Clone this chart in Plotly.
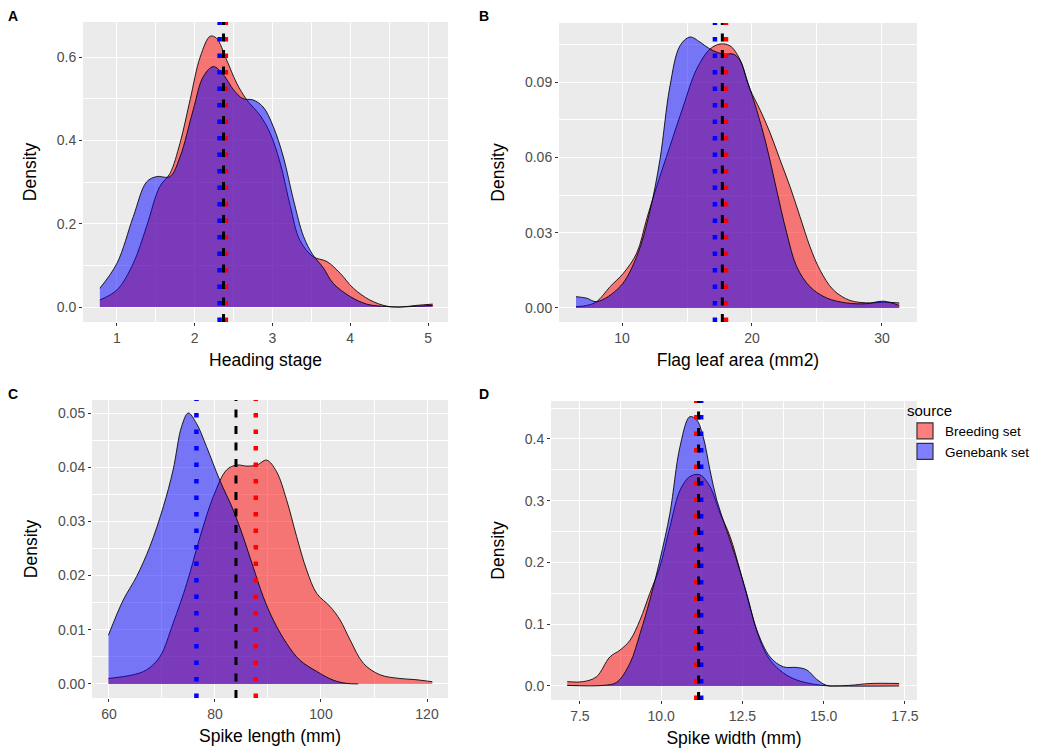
import plotly.graph_objects as go

# ---------------- data ----------------
traits = ["Heading stage", "Flag leaf area (mm2)", "Spike length (mm)", "Spike width (mm)"]
panel_letters = ["A", "B", "C", "D"]
series_names = ["Breeding set", "Genebank set"]

# Panel A: Heading stage
a_breed_x = [0.78, 1.0, 1.21, 1.38, 1.55, 1.68, 1.81, 1.94, 2.07, 2.20, 2.28, 2.41, 2.54, 2.67, 2.84, 2.97,
             3.10, 3.23, 3.35, 3.52, 3.70, 3.87, 4.04, 4.25, 4.47, 4.64, 4.86, 5.06]
a_breed_y = [0.017, 0.041, 0.105, 0.193, 0.289, 0.320, 0.393, 0.497, 0.600, 0.650, 0.645, 0.593, 0.537, 0.497,
             0.460, 0.417, 0.345, 0.241, 0.161, 0.121, 0.109, 0.081, 0.045, 0.017, 0.002, 0.000, 0.004, 0.007]
a_gene_x = [0.78, 1.0, 1.21, 1.38, 1.51, 1.68, 1.81, 1.98, 2.11, 2.24, 2.37, 2.50, 2.62, 2.75, 2.88, 3.01,
            3.14, 3.27, 3.40, 3.52, 3.65, 3.78, 4.0, 4.21, 4.40, 4.64, 4.86, 5.06]
a_gene_y = [0.045, 0.105, 0.217, 0.300, 0.313, 0.313, 0.360, 0.473, 0.553, 0.577, 0.557, 0.521, 0.500, 0.497,
            0.480, 0.433, 0.360, 0.257, 0.169, 0.125, 0.095, 0.057, 0.025, 0.007, 0.002, 0.000, 0.002, 0.004]

# Panel B: Flag leaf area
b_breed_x = [6.46, 7.28, 8.05, 9.08, 10.1, 11.13, 11.9, 12.67, 13.69, 14.72, 15.74, 16.77, 17.54, 18.31, 19.08,
             19.85, 20.62, 21.38, 22.15, 22.92, 23.69, 24.46, 25.23, 26.26, 27.54, 29.08, 30.1, 31.33]
b_breed_y = [0.0005, 0.0010, 0.0025, 0.0085, 0.0138, 0.0219, 0.0355, 0.0485, 0.0645, 0.0805, 0.0952, 0.1032,
             0.1052, 0.1045, 0.0990, 0.0872, 0.0790, 0.0700, 0.0592, 0.0485, 0.0365, 0.0245, 0.0152, 0.0072,
             0.0030, 0.0020, 0.0023, 0.0020]
b_gene_x = [6.46, 7.28, 8.05, 9.85, 11.13, 12.15, 12.92, 13.69, 14.46, 15.23, 16.0, 16.77, 17.79, 18.56, 19.08,
            19.59, 20.36, 21.13, 21.9, 22.67, 23.44, 24.46, 25.74, 27.28, 28.82, 30.1, 31.33]
b_gene_y = [0.0045, 0.0039, 0.0025, 0.0085, 0.0205, 0.0387, 0.0592, 0.0885, 0.1045, 0.1080, 0.1060, 0.1032,
            0.1012, 0.1012, 0.0987, 0.0912, 0.0790, 0.0645, 0.0470, 0.0300, 0.0165, 0.0085, 0.0040, 0.0020,
            0.0017, 0.0027, 0.0010]

# Panel C: Spike length
c_breed_x = [59.9, 64.6, 67.1, 69.6, 72.1, 74.7, 77.2, 79.7, 82.2, 84.1, 86.0, 87.9, 89.75, 91.6, 93.5, 95.4,
             97.3, 99.2, 101.7, 103.6, 105.5, 108.0, 111.1, 114.9, 117.7, 121.0]
c_breed_y = [0.0010, 0.0017, 0.0026, 0.0050, 0.0112, 0.0186, 0.0272, 0.0346, 0.0395, 0.0404, 0.0402, 0.0404,
             0.0413, 0.0392, 0.0340, 0.0272, 0.0210, 0.0167, 0.0143, 0.0118, 0.0081, 0.0038, 0.0017, 0.0010,
             0.0008, 0.0004]
c_gene_x = [59.9, 62.7, 65.2, 67.7, 70.25, 72.1, 73.7, 74.96, 76.5, 78.4, 80.9, 83.45, 85.3, 87.2, 89.1, 91.0,
            93.5, 96.0, 99.2, 102.3, 104.8, 107.0]
c_gene_y = [0.0090, 0.0155, 0.0198, 0.0253, 0.0327, 0.0395, 0.0475, 0.0500, 0.0481, 0.0438, 0.0376, 0.0321,
            0.0272, 0.0216, 0.0161, 0.0118, 0.0075, 0.0044, 0.0023, 0.0007, 0.0001, 0.0000]

# Panel D: Spike width
d_breed_x = [7.11, 7.6, 8.01, 8.42, 8.73, 9.04, 9.35, 9.65, 9.96, 10.27, 10.58, 10.88, 11.19, 11.5, 11.81,
             12.12, 12.42, 12.73, 13.04, 13.35, 13.76, 14.17, 14.68, 15.2, 15.8, 16.42, 17.32]
d_breed_y = [0.007, 0.007, 0.015, 0.047, 0.058, 0.074, 0.107, 0.150, 0.193, 0.258, 0.317, 0.339, 0.342, 0.323,
             0.280, 0.242, 0.188, 0.128, 0.074, 0.042, 0.021, 0.0097, 0.003, 0.000, 0.001, 0.004, 0.004]
d_gene_x = [7.11, 8.22, 8.63, 9.04, 9.35, 9.65, 9.96, 10.27, 10.58, 10.88, 11.09, 11.29, 11.5, 11.71, 12.01,
            12.32, 12.63, 12.94, 13.35, 13.76, 14.17, 14.48, 14.78, 15.09, 15.5, 17.32]
d_gene_y = [0.001, 0.001, 0.006, 0.037, 0.085, 0.139, 0.204, 0.280, 0.388, 0.436, 0.431, 0.404, 0.350, 0.301,
            0.253, 0.204, 0.150, 0.091, 0.047, 0.031, 0.030, 0.026, 0.011, 0.001, 0.000, 0.000]

# group means (vertical reference lines)
mean_breeding = [2.40, 18.0, 87.7, 11.08]
mean_genebank = [2.32, 17.15, 76.5, 11.23]
mean_overall = [2.37, 17.72, 83.96, 11.15]

breed_x = [a_breed_x, b_breed_x, c_breed_x, d_breed_x]
breed_y = [a_breed_y, b_breed_y, c_breed_y, d_breed_y]
gene_x = [a_gene_x, b_gene_x, c_gene_x, d_gene_x]
gene_y = [a_gene_y, b_gene_y, c_gene_y, d_gene_y]

# ---------------- layout settings ----------------
OFF = 8                     # page body margin of the html page
W, H = 1050 - OFF, 752 - OFF


def fx(px):
    return (px - OFF) / W


def fy(py):
    return 1 - (py - OFF) / H


# plot areas in screen pixels: (left, right, top, bottom)
panel_px = [(83, 448, 22, 322), (559, 917, 23, 322), (92, 448, 400, 698), (551, 917, 401, 700)]
x_ranges = [[0.563, 5.257], [5.15, 32.7], [56.8, 123.96], [6.61, 17.87]]
y_ranges = [[-0.036, 0.684], [-0.0056, 0.1136], [-0.0026, 0.0524], [-0.0227, 0.4615]]
x_dticks = [1, 10, 20, 2.5]
y_dticks = [0.2, 0.03, 0.01, 0.1]
x_fmts = ["d", "d", "d", ".1f"]
y_fmts = [".1f", ".2f", ".2f", ".1f"]
letter_px = [(13, 16), (484, 16), (13, 394), (484, 394)]

fill_colors = ["rgba(255,0,0,0.5)", "rgba(0,0,255,0.5)"]
line_colors = ["#FF0000", "#0000FF"]
FAM = "Liberation Sans, Arial, sans-serif"
TICK_FONT = dict(family=FAM, size=14, color="#4D4D4D")
TITLE_FONT = dict(family=FAM, size=17.5, color="#000000")

fig = go.Figure()
layout = {}
shapes = []
annotations = []

for i in range(4):
    sfx = "" if i == 0 else str(i + 1)
    xa, ya = "x" + sfx, "y" + sfx
    for s, (xs, ys) in enumerate([(breed_x[i], breed_y[i]), (gene_x[i], gene_y[i])]):
        fig.add_trace(go.Scatter(
            x=xs, y=ys, xaxis=xa, yaxis=ya, mode="lines",
            line=dict(color="rgba(0,0,0,0.85)", width=1, shape="spline", smoothing=1.0),
            fill="tozeroy", fillcolor=fill_colors[s],
            name=series_names[s], showlegend=False, hoverinfo="skip"))
    l, r, t, b = panel_px[i]
    layout["xaxis" + sfx] = dict(
        domain=[fx(l), fx(r)], anchor=ya, range=x_ranges[i], dtick=x_dticks[i], tick0=0,
        tickformat=x_fmts[i], showgrid=True, gridcolor="white", gridwidth=1.3, zeroline=False,
        ticks="outside", ticklen=3, tickwidth=1, tickcolor="#333333", tickfont=TICK_FONT,
        minor=dict(dtick=x_dticks[i] / 2, tick0=0, showgrid=True, gridcolor="white", gridwidth=0.6),
        showline=False, automargin=False, title=dict(text=traits[i], font=TITLE_FONT, standoff=8))
    layout["yaxis" + sfx] = dict(
        domain=[fy(b), fy(t)], anchor=xa, range=y_ranges[i], dtick=y_dticks[i], tick0=0,
        tickformat=y_fmts[i], showgrid=True, gridcolor="white", gridwidth=1.3, zeroline=False,
        ticks="outside", ticklen=3, tickwidth=1, tickcolor="#333333", tickfont=TICK_FONT,
        minor=dict(dtick=y_dticks[i] / 2, tick0=0, showgrid=True, gridcolor="white", gridwidth=0.6),
        showline=False, automargin=False, title=dict(text="Density", font=TITLE_FONT, standoff=15))
    # panel backgrounds
    shapes.append(dict(type="rect", xref=xa + " domain", yref=ya + " domain", x0=0, x1=1, y0=0, y1=1,
                       fillcolor="#EBEBEB", line=dict(width=0), layer="below"))
    # mean lines
    for mv, col in [(mean_breeding[i], line_colors[0]), (mean_genebank[i], line_colors[1])]:
        shapes.append(dict(type="line", xref=xa, yref=ya + " domain", x0=mv, x1=mv, y0=0, y1=1,
                           line=dict(color=col, width=4.5, dash="4.5px,12px"), layer="above"))
    shapes.append(dict(type="line", xref=xa, yref=ya + " domain", x0=mean_overall[i], x1=mean_overall[i],
                       y0=0, y1=1, line=dict(color="black", width=3, dash="8px,8.5px"), layer="above"))
    lx, ly = letter_px[i]
    annotations.append(dict(text="<b>" + panel_letters[i] + "</b>", xref="paper", yref="paper",
                            x=fx(lx), y=fy(ly), xanchor="center", yanchor="middle", showarrow=False,
                            font=dict(family=FAM, size=14, color="black")))

# legend keys (ggplot-style boxes)
for s in range(2):
    fig.add_trace(go.Scatter(
        x=[None], y=[None], mode="markers", name=series_names[s],
        marker=dict(symbol="square", size=18, color=fill_colors[s], line=dict(color="#333333", width=1.2)),
        showlegend=True, hoverinfo="skip"))

fig.update_layout(
    width=W, height=H, margin=dict(l=0, r=0, t=0, b=0),
    paper_bgcolor="white", plot_bgcolor="rgba(0,0,0,0)",
    font=dict(family=FAM),
    shapes=shapes, annotations=annotations,
    legend=dict(x=fx(905), y=fy(396), xanchor="left", yanchor="top",
                title=dict(text="source", font=dict(size=15, color="black")),
                font=dict(size=13.5, color="black"), bgcolor="rgba(0,0,0,0)",
                itemsizing="trace", tracegroupgap=0, itemwidth=30),
    showlegend=True,
    **layout)

fig.write_html("out.html")
